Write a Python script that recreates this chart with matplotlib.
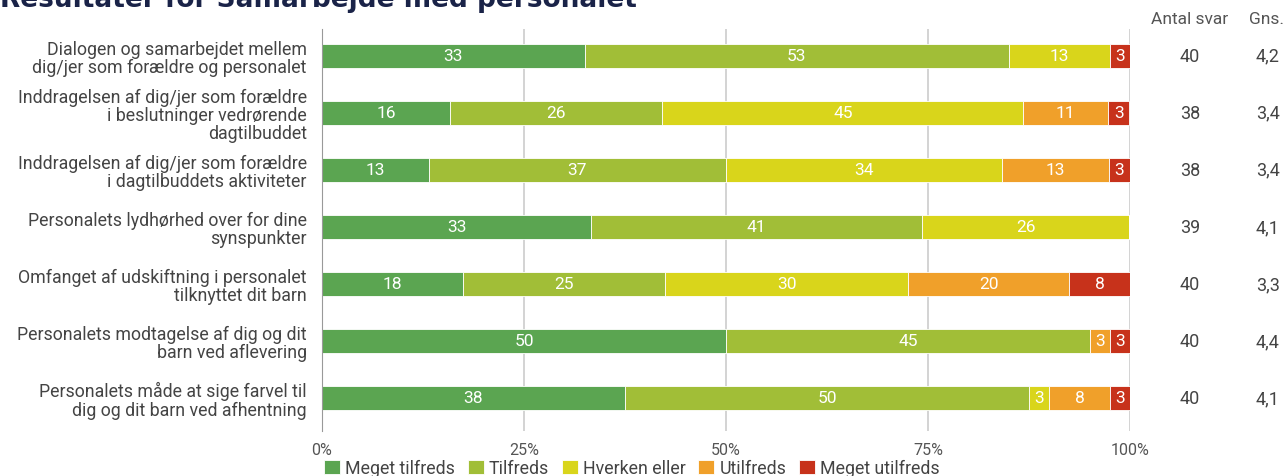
import matplotlib.pyplot as plt

plt.rcParams['font.family'] = ['Roboto', 'DejaVu Sans']

# data
questions = [
    "Dialogen og samarbejdet mellem\ndig/jer som forældre og personalet",
    "Inddragelsen af dig/jer som forældre\ni beslutninger vedrørende\ndagtilbuddet",
    "Inddragelsen af dig/jer som forældre\ni dagtilbuddets aktiviteter",
    "Personalets lydhørhed over for dine\nsynspunkter",
    "Omfanget af udskiftning i personalet\ntilknyttet dit barn",
    "Personalets modtagelse af dig og dit\nbarn ved aflevering",
    "Personalets måde at sige farvel til\ndig og dit barn ved afhentning",
]
categories = ["Meget tilfreds", "Tilfreds", "Hverken eller", "Utilfreds", "Meget utilfreds"]
meget_tilfreds = [32.5, 15.8, 13.2, 33.3, 17.5, 50.0, 37.5]
tilfreds = [52.5, 26.3, 36.8, 41.0, 25.0, 45.0, 50.0]
hverken_eller = [12.5, 44.7, 34.2, 25.6, 30.0, 0.0, 2.5]
utilfreds = [0.0, 10.5, 13.2, 0.0, 20.0, 2.5, 7.5]
meget_utilfreds = [2.5, 2.6, 2.6, 0.0, 7.5, 2.5, 2.5]
antal_svar = [40, 38, 38, 39, 40, 40, 40]
gns = [4.2, 3.4, 3.4, 4.1, 3.3, 4.4, 4.1]

series = [meget_tilfreds, tilfreds, hverken_eller, utilfreds, meget_utilfreds]
colors = ["#5ba551", "#a1be37", "#d9d51b", "#f0a02a", "#c7321b"]

W, H = 1288, 477
fig = plt.figure(figsize=(W / 100, H / 100), dpi=100)
ax = fig.add_axes([322 / W, 1 - 432 / H, (1130 - 322) / W, (432 - 30) / H])

ypos = list(range(len(questions)))
left = [0.0] * len(questions)
for vals, col, name in zip(series, colors, categories):
    bars = ax.barh(ypos, vals, left=left, height=0.42, color=col,
                   edgecolor='white', linewidth=0.6, label=name, zorder=3)
    for b, v, l in zip(bars, vals, left):
        if v > 0:
            ax.text(l + v / 2, b.get_y() + b.get_height() / 2, str(int(v + 0.5)),
                    ha='center', va='center', color='white', fontsize=12.5, zorder=4)
    left = [a + b for a, b in zip(left, vals)]

ax.set_xlim(0, 100)
ax.set_ylim(6.58, -0.47)
ax.set_xticks([0, 25, 50, 75, 100])
ax.set_xticklabels(["0%", "25%", "50%", "75%", "100%"], color='#555555', fontsize=11.5)
ax.set_yticks(ypos)
ax.set_yticklabels(questions, color='#444444', fontsize=12.8, linespacing=1.0)
ax.tick_params(axis='both', length=0, pad=8)
ax.tick_params(axis='y', pad=11)
ax.grid(axis='x', color='#cccccc', linewidth=1.2, zorder=0)
for s in ['top', 'right', 'bottom']:
    ax.spines[s].set_visible(False)
ax.spines['left'].set_color('#999999')
ax.spines['left'].set_zorder(5)

# side columns
fig.text(1190 / W, 1 - 20 / H, "Antal svar", ha='center', va='center', color='#555555', fontsize=12.5)
fig.text(1266 / W, 1 - 20 / H, "Gns.", ha='center', va='center', color='#555555', fontsize=12.5)
for i, (n, g) in enumerate(zip(antal_svar, gns)):
    yy = ax.transData.transform((0, i))[1] / H
    fig.text(1190 / W, yy, str(n), ha='center', va='center', color='#444444', fontsize=13)
    fig.text(1268 / W, yy, f"{g:.1f}".replace('.', ','), ha='center', va='center',
             color='#444444', fontsize=13)

# title, cut at the top edge as in the source
fig.text(0 / W, 1 - 7 / H, "Resultater for Samarbejde med personalet", ha='left',
         va='baseline', fontsize=19, fontweight='bold', color='#1a2348', family='DejaVu Sans')

leg = fig.legend(loc='center left', bbox_to_anchor=(308 / W, 1 - 469 / H), ncol=5, frameon=False,
                 fontsize=12.8, handlelength=0.9, handleheight=0.9, handletextpad=0.3,
                 columnspacing=0.7, labelcolor='#444444')

fig.savefig("out.png", dpi=100)
